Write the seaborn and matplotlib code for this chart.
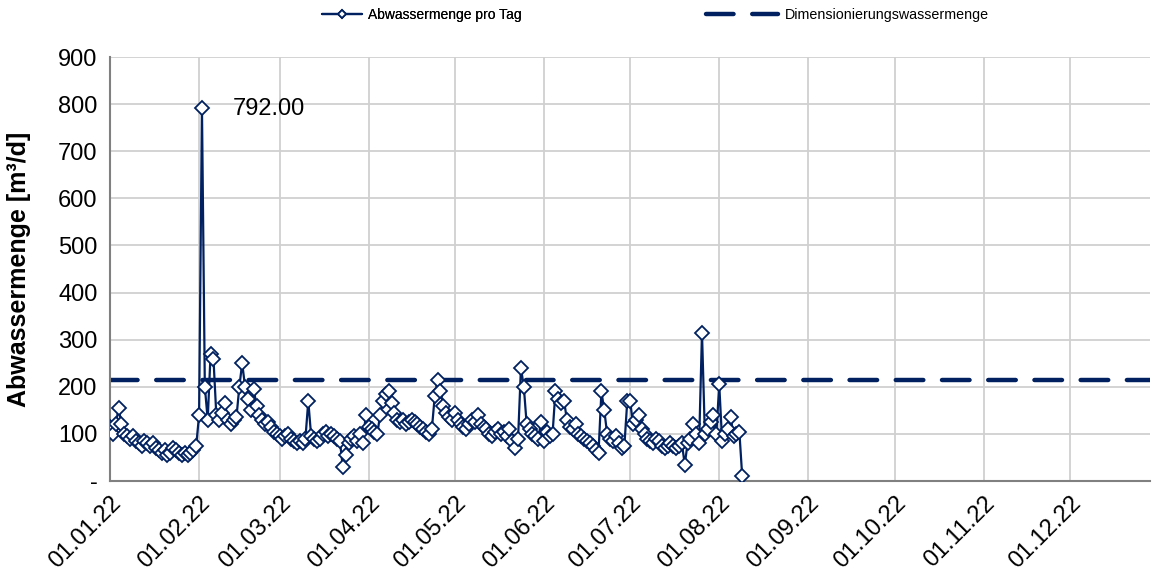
import numpy as np
import pandas as pd
import matplotlib
matplotlib.use("Agg")
import matplotlib.pyplot as plt
import matplotlib.dates as mdates
from matplotlib.ticker import FuncFormatter
import seaborn as sns

# ---- data ----
jan = [115, 100, 120, 155, 120, 100, 95, 90, 95, 85, 80, 75, 85, 80, 75, 80, 70, 65, 60, 65,
       55, 60, 70, 65, 60, 55, 60, 55, 60, 65, 75]
feb = [140, 792, 200, 130, 270, 260, 140, 130, 145, 165, 130, 120, 130, 135, 200, 250, 200, 175,
       150, 195, 160, 140, 130, 120, 125, 115, 105, 100]
mar = [95, 90, 95, 100, 90, 85, 80, 85, 80, 90, 170, 95, 90, 85, 90, 100, 105, 95, 100, 95,
       90, 85, 30, 55, 80, 90, 95, 85, 100, 80, 140]
apr = [115, 110, 105, 100, 140, 170, 185, 190, 165, 145, 130, 125, 130, 120, 125, 130, 125, 120,
       115, 110, 105, 100, 110, 180, 215, 190, 160, 145, 135, 130]
may = [145, 130, 120, 115, 110, 120, 130, 125, 140, 120, 115, 110, 100, 95, 105, 110, 100, 105,
       95, 110, 85, 70, 90, 240, 200, 120, 110, 100, 95, 90, 125]
jun = [85, 105, 95, 100, 190, 175, 165, 170, 130, 115, 110, 120, 100, 95, 90, 85, 80, 75, 65, 60,
       190, 150, 100, 90, 85, 95, 80, 70, 75, 170]
jul = [170, 120, 130, 140, 110, 100, 90, 85, 80, 90, 85, 75, 70, 75, 80, 75, 70, 75, 80, 35,
       80, 90, 120, 100, 80, 315, 100, 110, 125, 140, 100]
aug = [205, 85, 100, 110, 135, 95, 100, 105, 10]

daily_values = jan + feb + mar + apr + may + jun + jul + aug
start_date = "2022-01-01"
design_value = 215
design_span = ["2022-01-01", "2022-12-31"]
peak_label = "792.00"

series_label = "Abwassermenge pro Tag"
design_label = "Dimensionierungswassermenge"
y_label = "Abwassermenge [m³/d]"
y_ticks = [0, 100, 200, 300, 400, 500, 600, 700, 800, 900]

# ---- frames ----
df = pd.DataFrame({
    "date": pd.date_range(start_date, periods=len(daily_values), freq="D"),
    "value": daily_values,
})
df_design = pd.DataFrame({"date": pd.to_datetime(design_span),
                          "value": [design_value, design_value]})

sns.set_theme(style="white")
plt.rcParams["font.family"] = ["Liberation Sans", "DejaVu Sans"]

navy = "#002060"
grid_c = "#d0d0d0"
W, H = 1157, 581

fig, ax = plt.subplots(figsize=(W / 100, H / 100), dpi=100)
fig.subplots_adjust(left=110 / W, right=1150 / W, top=1 - 57 / H, bottom=1 - 481 / H)

sns.lineplot(data=df_design, x="date", y="value", ax=ax, color=navy, lw=3.2,
             label=design_label, zorder=2, legend=False)
design_line = ax.lines[-1]
design_line.set_dashes([6.2, 4.2])
design_line.set_dash_capstyle("round")

sns.lineplot(data=df, x="date", y="value", ax=ax, color=navy, lw=1.6,
             marker="D", markersize=7.5, markerfacecolor="white",
             markeredgecolor=navy, markeredgewidth=1.3, label=series_label, zorder=3,
             legend=False)
series_line = ax.lines[-1]

# annotation of peak
imax = int(np.argmax(df["value"].values))
ax.annotate(peak_label, xy=(df["date"].iloc[imax], df["value"].iloc[imax]),
            xytext=(22, -1), textcoords="offset points", fontsize=17, va="center",
            ha="left", color="black")

x0 = pd.Timestamp("2022-01-01")
ax.set_xlim(x0, x0 + pd.Timedelta(days=361.9))
ax.set_ylim(0, 900)
ax.set_yticks(y_ticks)
ax.yaxis.set_major_formatter(FuncFormatter(lambda v, p: "-" if v == 0 else f"{int(v)}"))
ax.xaxis.set_major_locator(mdates.MonthLocator())
ax.xaxis.set_major_formatter(mdates.DateFormatter("%d.%m.%y"))
for lbl in ax.get_xticklabels():
    lbl.set_rotation(45)
    lbl.set_ha("right")
    lbl.set_rotation_mode("anchor")
ax.tick_params(axis="both", labelsize=17, colors="black", direction="out",
               length=5, width=1, color="#808080")
ax.tick_params(axis="x", pad=3)
ax.tick_params(axis="y", pad=4)

ax.grid(True, color=grid_c, lw=1.3)
ax.set_axisbelow(True)
for s in ["top", "right"]:
    ax.spines[s].set_visible(False)
for s in ["left", "bottom"]:
    ax.spines[s].set_color("#808080")
    ax.spines[s].set_linewidth(1.5)

ax.set_xlabel("")
ax.set_ylabel(y_label, fontsize=18, fontweight="bold", color="black")
ax.yaxis.set_label_coords((31 - 110) / 1040, 0.5)

leg1 = fig.legend([series_line], [series_label], loc="center left",
                  bbox_to_anchor=(322 / W, 1 - 15 / H), frameon=False, fontsize=10,
                  handlelength=2.9, handletextpad=0.4, borderpad=0, borderaxespad=0,
                  markerscale=0.6, labelcolor="black")
leg2 = fig.legend([design_line], [design_label], loc="center left",
                  bbox_to_anchor=(706 / W, 1 - 15 / H), frameon=False, fontsize=10.3,
                  handlelength=5.0, handletextpad=0.5, borderpad=0, borderaxespad=0,
                  labelcolor="black")
fig.add_artist(leg1)

fig.savefig("out.png", dpi=100)
